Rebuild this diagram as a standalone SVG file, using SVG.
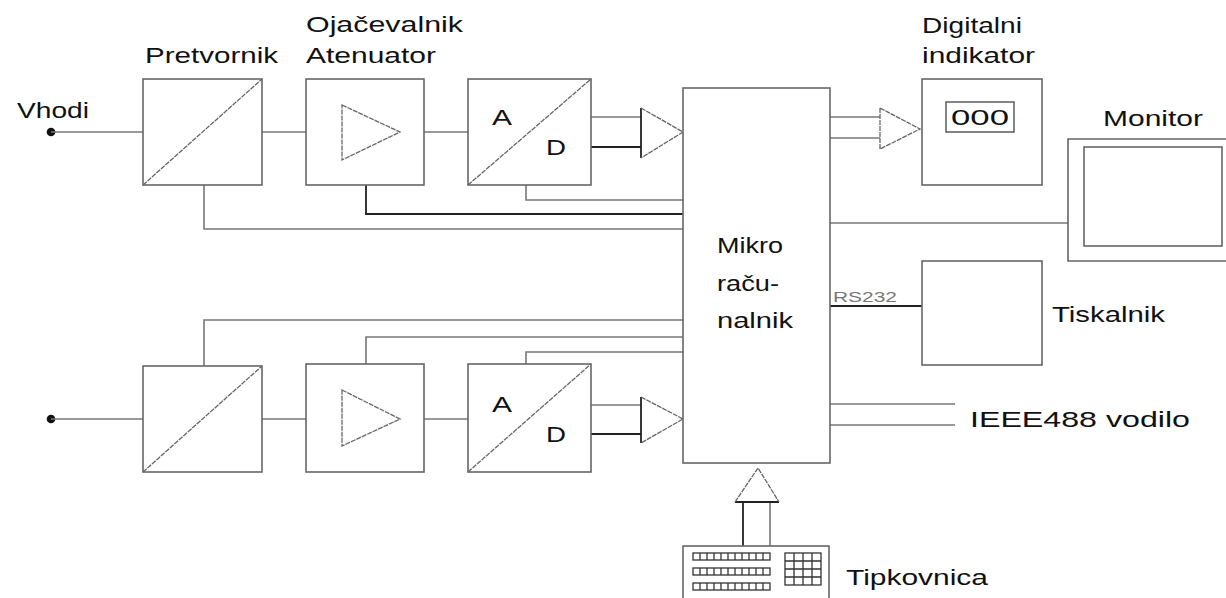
<svg xmlns="http://www.w3.org/2000/svg" width="1226" height="598" viewBox="0 0 1226 598">
<style>
.b{fill:#fff;stroke:#666;stroke-width:1.6}
.l{fill:none;stroke:#777;stroke-width:1.6}
.d{fill:none;stroke:#222;stroke-width:1.8}
.t{fill:none;stroke:#666;stroke-width:1.3;stroke-dasharray:5 1}
.tx{font-family:"Liberation Sans",Arial,sans-serif;font-size:22px;fill:#111}
.sm{font-family:"Liberation Sans",Arial,sans-serif;font-size:15px;fill:#777}
.k{fill:none;stroke:#333;stroke-width:1.3}
</style>
<rect width="1226" height="598" fill="#fff"/>
<g id="connectors">
  <circle cx="51" cy="132" r="4.3" fill="#111"/>
  <line class="l" x1="51" y1="132" x2="143" y2="132"/>
  <line class="l" x1="262" y1="132" x2="306" y2="132"/>
  <line class="l" x1="424" y1="132" x2="468" y2="132"/>
  <polyline class="l" points="526,185 526,200 683,200"/>
  <polyline class="d" points="366,185 366,214 683,214"/>
  <polyline class="l" points="204,185 204,229 683,229"/>
  <line class="l" x1="591" y1="117" x2="641" y2="117"/>
  <line class="d" x1="591" y1="147" x2="641" y2="147"/>
  <line class="d" x1="641" y1="108" x2="641" y2="158"/>
  <polyline class="t" points="641,108 683,132 641,158"/>

  <circle cx="51" cy="419" r="4.3" fill="#111"/>
  <line class="l" x1="51" y1="419" x2="143" y2="419"/>
  <line class="l" x1="262" y1="419" x2="306" y2="419"/>
  <line class="l" x1="424" y1="419" x2="468" y2="419"/>
  <polyline class="l" points="204,366 204,320 683,320"/>
  <polyline class="l" points="366,364 366,337 683,337"/>
  <polyline class="l" points="526,364 526,352 683,352"/>
  <line class="l" x1="591" y1="405" x2="641" y2="405"/>
  <line class="d" x1="591" y1="434" x2="641" y2="434"/>
  <line class="d" x1="641" y1="397" x2="641" y2="443"/>
  <polyline class="t" points="641,397 683,419 641,443"/>

  <line class="l" x1="830" y1="117" x2="880" y2="117"/>
  <line class="l" x1="830" y1="138" x2="880" y2="138"/>
  <polyline class="t" points="880,108 920,129 880,149 880,108"/>
  <line class="l" x1="830" y1="223" x2="1068" y2="223"/>
  <line class="d" x1="830" y1="306" x2="922" y2="306"/>
  <text class="sm" x="833" y="302" textLength="64" lengthAdjust="spacingAndGlyphs">RS232</text>
  <line class="l" x1="830" y1="404" x2="955" y2="404"/>
  <line class="l" x1="830" y1="425" x2="955" y2="425"/>

  <line class="d" x1="743" y1="502" x2="743" y2="546"/>
  <line class="l" x1="770" y1="502" x2="770" y2="546"/>
  <line class="d" x1="735" y1="502" x2="779" y2="502"/>
  <polyline class="t" points="735,502 758,468 779,502"/>
</g>
<g id="vhodi"><text class="tx" x="17" y="118" textLength="72" lengthAdjust="spacingAndGlyphs">Vhodi</text></g>
<g id="pretvornik1">
  <rect class="b" x="143" y="79" width="119" height="106"/>
  <line class="t" x1="143" y1="185" x2="262" y2="79"/>
  <text class="tx" x="145" y="63" textLength="133" lengthAdjust="spacingAndGlyphs">Pretvornik</text>
</g>
<g id="ojacevalnik1">
  <rect class="b" x="306" y="79" width="118" height="106"/>
  <polygon class="t" points="342,105 400,132 342,160"/>
  <text class="tx" x="306" y="32" textLength="157" lengthAdjust="spacingAndGlyphs">Ojačevalnik</text>
  <text class="tx" x="306" y="63" textLength="130" lengthAdjust="spacingAndGlyphs">Atenuator</text>
</g>
<g id="ad1">
  <rect class="b" x="468" y="79" width="123" height="106"/>
  <line class="t" x1="468" y1="185" x2="591" y2="79"/>
  <text class="tx" x="492" y="125" textLength="20" lengthAdjust="spacingAndGlyphs">A</text>
  <text class="tx" x="546" y="155" textLength="20" lengthAdjust="spacingAndGlyphs">D</text>
</g>
<g id="pretvornik2">
  <rect class="b" x="143" y="366" width="119" height="106"/>
  <line class="t" x1="143" y1="472" x2="262" y2="366"/>
</g>
<g id="ojacevalnik2">
  <rect class="b" x="306" y="364" width="118" height="108"/>
  <polygon class="t" points="342,390 400,419 342,446"/>
</g>
<g id="ad2">
  <rect class="b" x="468" y="364" width="123" height="108"/>
  <line class="t" x1="468" y1="472" x2="591" y2="364"/>
  <text class="tx" x="492" y="412" textLength="20" lengthAdjust="spacingAndGlyphs">A</text>
  <text class="tx" x="546" y="442" textLength="20" lengthAdjust="spacingAndGlyphs">D</text>
</g>
<g id="mikroracunalnik">
  <rect class="b" x="683" y="88" width="147" height="375"/>
  <text class="tx" x="717" y="253" textLength="66" lengthAdjust="spacingAndGlyphs">Mikro</text>
  <text class="tx" x="717" y="291" textLength="62" lengthAdjust="spacingAndGlyphs">raču-</text>
  <text class="tx" x="717" y="328" textLength="76" lengthAdjust="spacingAndGlyphs">nalnik</text>
</g>
<g id="digitalni-indikator">
  <rect class="b" x="922" y="79" width="120" height="106"/>
  <rect class="b" x="946" y="102" width="68" height="30"/>
  <text class="tx" x="951" y="125" textLength="58" lengthAdjust="spacingAndGlyphs">000</text>
  <text class="tx" x="922" y="33" textLength="100" lengthAdjust="spacingAndGlyphs">Digitalni</text>
  <text class="tx" x="922" y="63" textLength="113" lengthAdjust="spacingAndGlyphs">indikator</text>
</g>
<g id="monitor">
  <polyline class="b" points="1232,139 1068,139 1068,261 1232,261"/>
  <rect class="b" x="1084" y="147" width="138" height="99"/>
  <text class="tx" x="1103" y="126" textLength="100" lengthAdjust="spacingAndGlyphs">Monitor</text>
</g>
<g id="tiskalnik">
  <rect class="b" x="922" y="261" width="120" height="104"/>
  <text class="tx" x="1052" y="322" textLength="113" lengthAdjust="spacingAndGlyphs">Tiskalnik</text>
</g>
<g id="ieee488">
  <text class="tx" x="970" y="427" textLength="220" lengthAdjust="spacingAndGlyphs">IEEE488 vodilo</text>
</g>
<g id="tipkovnica">
  <rect class="b" x="683" y="546" width="146" height="60"/>
  <g class="k">
    <rect x="693" y="553" width="77" height="7"/>
    <rect x="693" y="568" width="77" height="7"/>
    <rect x="693" y="583" width="77" height="7"/>
    <path d="M700,553v7M707,553v7M714,553v7M721,553v7M728,553v7M735,553v7M742,553v7M749,553v7M756,553v7M763,553v7
             M700,568v7M707,568v7M714,568v7M721,568v7M728,568v7M735,568v7M742,568v7M749,568v7M756,568v7M763,568v7
             M700,583v7M707,583v7M714,583v7M721,583v7M728,583v7M735,583v7M742,583v7M749,583v7M756,583v7M763,583v7"/>
    <rect x="785" y="553" width="36" height="32"/>
    <path d="M794,553v32M803,553v32M812,553v32M785,561h36M785,569h36M785,577h36"/>
  </g>
  <text class="tx" x="846" y="585" textLength="142" lengthAdjust="spacingAndGlyphs">Tipkovnica</text>
</g>
</svg>
